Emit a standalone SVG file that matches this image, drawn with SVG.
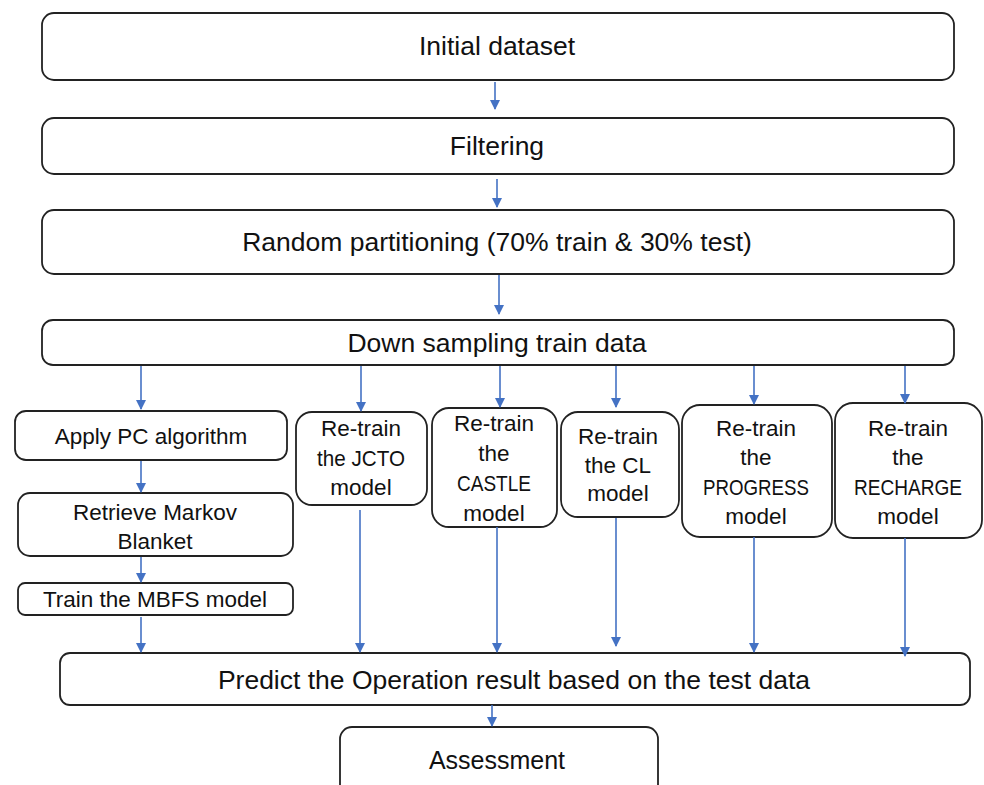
<svg xmlns="http://www.w3.org/2000/svg" width="984" height="785" viewBox="0 0 984 785">
<defs>
<marker id="ah" markerUnits="userSpaceOnUse" markerWidth="10" markerHeight="11" refX="9" refY="5" orient="auto">
<path d="M0,0 L10,5 L0,10 Z" fill="#4472C4"/>
</marker>
<style>
.b{fill:#fff;stroke:#222;stroke-width:1.8}
.t{font-family:"Liberation Sans",Arial,sans-serif;fill:#111;text-anchor:middle;dominant-baseline:central}
.L{font-size:26.5px}
.A{font-size:25px}
.s{font-size:22.5px}
.c line{stroke:#4472C4;stroke-width:1.6;marker-end:url(#ah)}
</style>
</defs>
<rect width="984" height="785" fill="#fff"/>
<g id="n-initial"><rect class="b" x="42" y="13" width="912" height="67" rx="12"/><text class="t L" x="497" y="46">Initial dataset</text></g>
<g id="n-filter"><rect class="b" x="42" y="118" width="912" height="56" rx="12"/><text class="t L" x="497" y="146">Filtering</text></g>
<g id="n-random"><rect class="b" x="42" y="210" width="912" height="64" rx="12"/><text class="t L" x="497" y="242">Random partitioning (70% train &amp; 30% test)</text></g>
<g id="n-down"><rect class="b" x="42" y="320" width="912" height="45" rx="11"/><text class="t L" x="497" y="343">Down sampling train data</text></g>
<g id="n-pc"><rect class="b" x="15" y="411" width="272" height="49" rx="11"/><text class="t s" x="151" y="436">Apply PC algorithm</text></g>
<g id="n-mb"><rect class="b" x="18" y="493" width="275" height="63" rx="12"/><text class="t s" x="155" y="512">Retrieve Markov</text><text class="t s" x="155" y="541">Blanket</text></g>
<g id="n-mbfs"><rect class="b" x="18" y="583" width="275" height="32" rx="7"/><text class="t s" x="155" y="599">Train the MBFS model</text></g>
<g id="n-jcto"><rect class="b" x="296" y="412" width="131" height="93" rx="16"/><text class="t s" x="361" y="428">Re-train</text><text class="t s" x="361" y="458" textLength="88" lengthAdjust="spacingAndGlyphs">the JCTO</text><text class="t s" x="361" y="487">model</text></g>
<g id="n-castle"><rect class="b" x="432" y="408" width="125" height="119" rx="17"/><text class="t s" x="494" y="423">Re-train</text><text class="t s" x="494" y="453">the</text><text class="t s" x="494" y="483" textLength="74" lengthAdjust="spacingAndGlyphs">CASTLE</text><text class="t s" x="494" y="513">model</text></g>
<g id="n-cl"><rect class="b" x="561" y="412" width="118" height="105" rx="17"/><text class="t s" x="618" y="436">Re-train</text><text class="t s" x="618" y="465">the CL</text><text class="t s" x="618" y="493">model</text></g>
<g id="n-progress"><rect class="b" x="682" y="405" width="150" height="132" rx="18"/><text class="t s" x="756" y="428">Re-train</text><text class="t s" x="756" y="457">the</text><text class="t s" x="756" y="487" textLength="106" lengthAdjust="spacingAndGlyphs">PROGRESS</text><text class="t s" x="756" y="516">model</text></g>
<g id="n-recharge"><rect class="b" x="835" y="403" width="147" height="135" rx="18"/><text class="t s" x="908" y="428">Re-train</text><text class="t s" x="908" y="457">the</text><text class="t s" x="908" y="487" textLength="108" lengthAdjust="spacingAndGlyphs">RECHARGE</text><text class="t s" x="908" y="516">model</text></g>
<g id="n-predict"><rect class="b" x="60" y="653" width="910" height="52" rx="10"/><text class="t L" x="514" y="680">Predict the Operation result based on the test data</text></g>
<g id="n-assess"><rect class="b" x="340" y="727" width="318" height="75" rx="12"/><text class="t A" x="497" y="760">Assessment</text></g>
<g id="connectors" class="c">
<line x1="495" y1="82" x2="495" y2="109"/>
<line x1="497" y1="179" x2="497" y2="207"/>
<line x1="499" y1="275" x2="499" y2="314"/>
<line x1="141" y1="366" x2="141" y2="409"/>
<line x1="361" y1="366" x2="361" y2="411"/>
<line x1="500" y1="366" x2="500" y2="407"/>
<line x1="616" y1="366" x2="616" y2="407"/>
<line x1="754" y1="366" x2="754" y2="404"/>
<line x1="905" y1="366" x2="905" y2="403"/>
<line x1="141" y1="461" x2="141" y2="492"/>
<line x1="141" y1="557" x2="141" y2="582"/>
<line x1="141" y1="617" x2="141" y2="652"/>
<line x1="360" y1="510" x2="360" y2="652"/>
<line x1="497" y1="527" x2="497" y2="652"/>
<line x1="616" y1="518" x2="616" y2="646"/>
<line x1="754" y1="537" x2="754" y2="652"/>
<line x1="905" y1="538" x2="905" y2="656"/>
<line x1="492" y1="705" x2="492" y2="726"/>
</g>
</svg>
